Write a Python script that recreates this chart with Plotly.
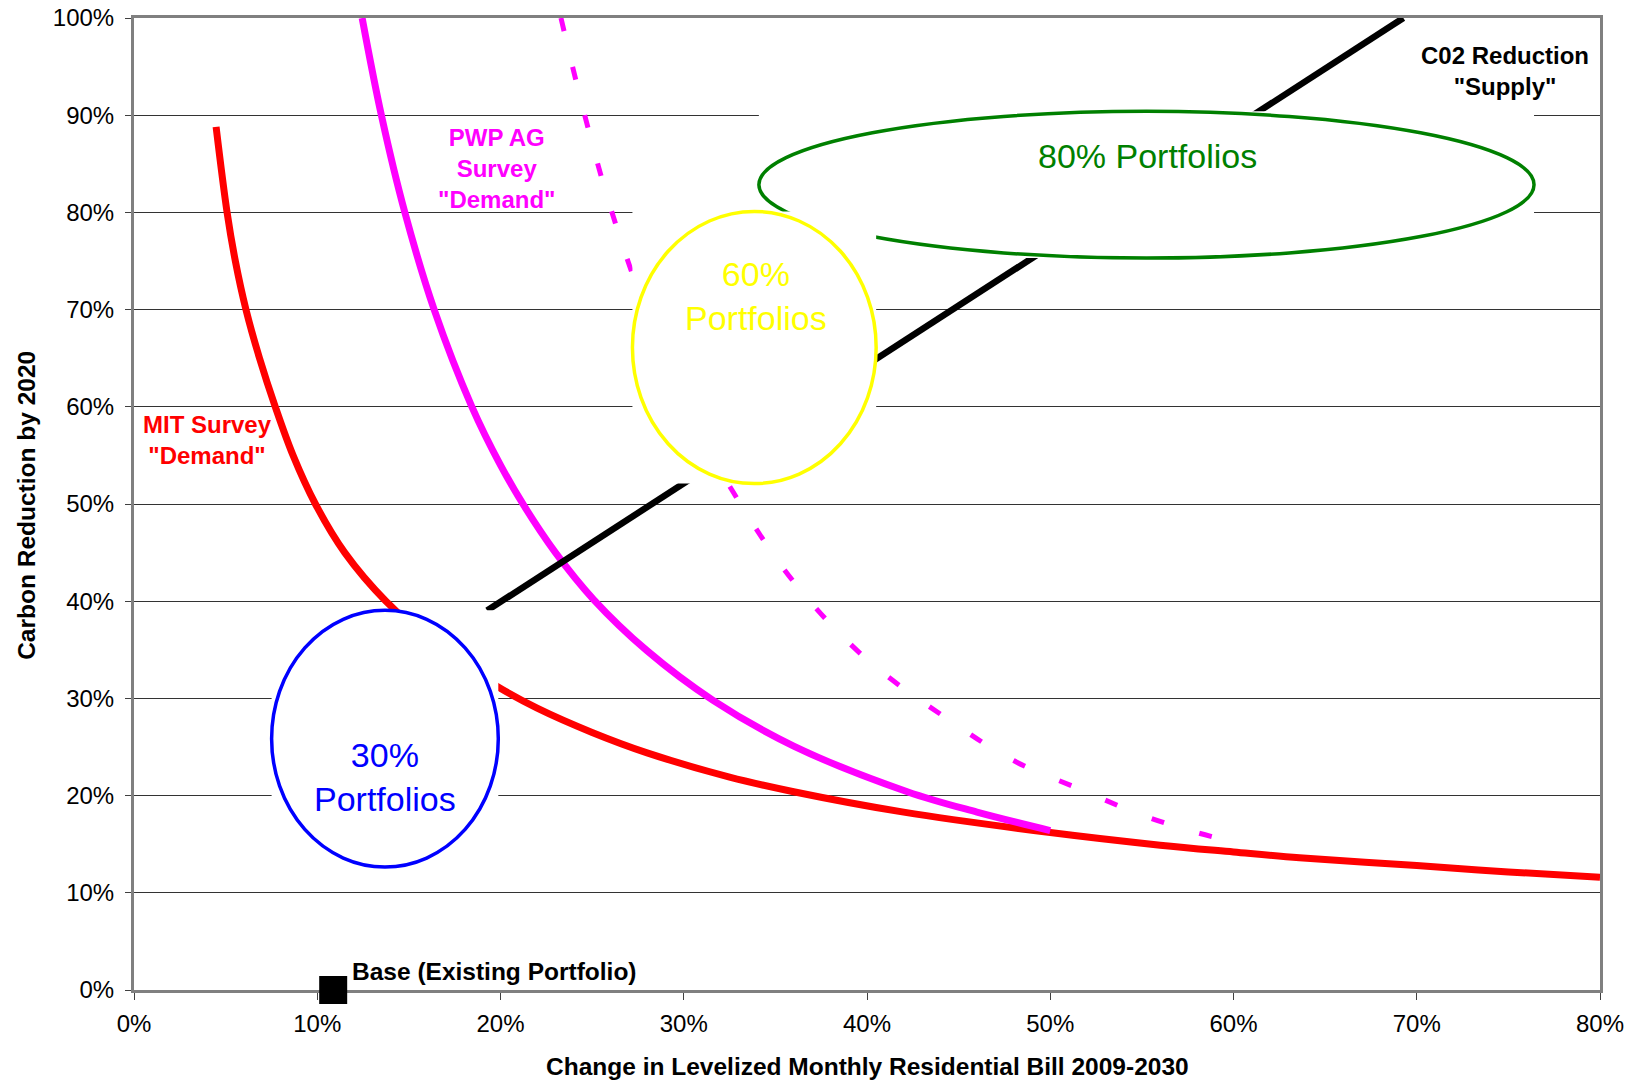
import plotly.graph_objects as go

# MIT survey "demand" curve: change in bill (%) vs carbon reduction (%)
mit_bill = [4.48, 5.08, 5.53, 6.11, 6.85, 7.71, 8.68, 9.9, 11.5, 13.75, 16.8, 19.85,
            22, 25, 28, 32.5, 36, 42, 50, 56, 60, 63.6, 70, 75, 80]
mit_cut = [88.8, 80, 75, 70, 65, 60, 55, 50, 45, 40, 35, 31.2,
           29.0, 26.5, 24.4, 21.9, 20.4, 18.3, 16.2, 14.9, 14.2, 13.6, 12.8, 12.15, 11.6]

# PWP AG survey "demand" curve (solid)
pwp_bill = [12.45, 13.5, 14.78, 16.38, 18.44, 20, 21.29, 23, 25.07, 28, 31.6, 36, 42.2, 46, 50.0]
pwp_cut = [100, 90, 80, 70, 60, 54, 49.8, 45, 40.2, 34.9, 29.8, 25.1, 20.4, 18.3, 16.4]

# PWP AG survey alternative response (dashed)
pwp_alt_bill = [23.3, 24.5, 26, 28, 30, 32.9, 36, 40, 44.7, 48, 51.7, 55, 58, 60.7]
pwp_alt_cut = [100, 90.7, 80.5, 69.5, 60.5, 50.6, 42.0, 34.0, 27.5, 23.6, 20.6, 18.0, 16.2, 14.9]

# CO2 reduction "supply" line
supply_bill = [19.27, 69.27]
supply_cut = [39.04, 100.0]

# Base (existing portfolio)
base_bill = [10.87]
base_cut = [0.0]

# Portfolio groupings, drawn back to front
group_names = ["80% Portfolios", "60%<br>Portfolios", "30%<br>Portfolios"]
group_bill_lo = [34.1, 27.2, 7.51]
group_bill_hi = [76.4, 40.5, 19.88]
group_cut_lo = [75.3, 52.1, 12.65]
group_cut_hi = [90.4, 80.1, 39.06]

x_ticks = [0, 10, 20, 30, 40, 50, 60, 70, 80]
x_tick_labels = ["0%", "10%", "20%", "30%", "40%", "50%", "60%", "70%", "80%"]
y_ticks = [0, 10, 20, 30, 40, 50, 60, 70, 80, 90, 100]
y_tick_labels = ["0%", "10%", "20%", "30%", "40%", "50%", "60%", "70%", "80%", "90%", "100%"]

FONT = "Liberation Sans, Arial, sans-serif"
group_colors = ["#008000", "#FFFF00", "#0000FF"]
group_text_pos = [(55.3, 85.8), (33.93, 71.4), (13.7, 21.9)]

fig = go.Figure()

fig.add_trace(go.Scatter(x=mit_bill, y=mit_cut, mode="lines",
                         line=dict(color="#FF0000", width=7, shape="spline"),
                         hoverinfo="skip"))
fig.add_trace(go.Scatter(x=pwp_bill, y=pwp_cut, mode="lines",
                         line=dict(color="#FF00FF", width=7, shape="spline"),
                         hoverinfo="skip"))
fig.add_trace(go.Scatter(x=pwp_alt_bill, y=pwp_alt_cut, mode="lines",
                         line=dict(color="#FF00FF", width=5, shape="spline", dash="13px,37px"),
                         hoverinfo="skip"))
fig.add_trace(go.Scatter(x=supply_bill, y=supply_cut, mode="lines",
                         line=dict(color="#000000", width=6.5),
                         hoverinfo="skip"))
fig.add_trace(go.Scatter(x=base_bill, y=base_cut, mode="markers",
                         marker=dict(symbol="square", size=28, color="#000000",
                                     line=dict(width=0)),
                         cliponaxis=False, hoverinfo="skip"))

shapes = []
for i in range(len(group_names)):
    # white backing that hides grid and curves behind each grouping
    shapes.append(dict(type="rect", xref="x", yref="y",
                       x0=group_bill_lo[i], x1=group_bill_hi[i],
                       y0=group_cut_lo[i], y1=group_cut_hi[i],
                       fillcolor="white", line=dict(width=0), layer="above"))
    shapes.append(dict(type="circle", xref="x", yref="y",
                       x0=group_bill_lo[i], x1=group_bill_hi[i],
                       y0=group_cut_lo[i], y1=group_cut_hi[i],
                       fillcolor="rgba(0,0,0,0)",
                       line=dict(color=group_colors[i], width=3.5), layer="above"))

annotations = []
for i in range(len(group_names)):
    annotations.append(dict(x=group_text_pos[i][0], y=group_text_pos[i][1],
                            xref="x", yref="y", text=group_names[i], showarrow=False,
                            font=dict(family=FONT, size=34, color=group_colors[i]),
                            xanchor="center", yanchor="middle"))

annotations += [
    dict(x=3.99, y=56.6, xref="x", yref="y", text="<b>MIT Survey<br>\"Demand\"</b>",
         showarrow=False, font=dict(family=FONT, size=24, color="#FF0000"),
         xanchor="center", yanchor="middle"),
    dict(x=19.8, y=84.5, xref="x", yref="y", text="<b>PWP AG<br>Survey<br>\"Demand\"</b>",
         showarrow=False, font=dict(family=FONT, size=24, color="#FF00FF"),
         xanchor="center", yanchor="middle"),
    dict(x=74.8, y=94.5, xref="x", yref="y", text="<b>C02 Reduction<br>\"Supply\"</b>",
         showarrow=False, font=dict(family=FONT, size=24, color="#000000"),
         xanchor="center", yanchor="middle"),
    dict(x=11.8, y=1.9, xref="x", yref="y", text="<b>Base (Existing Portfolio)</b>",
         showarrow=False, font=dict(family=FONT, size=24.5, color="#000000"),
         xanchor="left", yanchor="middle"),
    dict(x=0.5, y=-0.0792, xref="paper", yref="paper",
         text="<b>Change in Levelized Monthly Residential Bill 2009-2030</b>",
         showarrow=False, font=dict(family=FONT, size=24.5, color="#000000"),
         xanchor="center", yanchor="middle"),
    dict(x=-0.0734, y=0.4985, xref="paper", yref="paper",
         text="<b>Carbon Reduction by 2020</b>", textangle=-90,
         showarrow=False, font=dict(family=FONT, size=24.5, color="#000000"),
         xanchor="center", yanchor="middle"),
]

fig.update_layout(
    width=1637, height=1081,
    margin=dict(l=134, r=37, t=18, b=91, autoexpand=False),
    paper_bgcolor="white", plot_bgcolor="white",
    showlegend=False,
    shapes=shapes, annotations=annotations,
    font=dict(family=FONT, color="#000000"),
    xaxis=dict(range=[0, 80], tickvals=x_ticks, ticktext=x_tick_labels,
               showgrid=False, zeroline=False, automargin=False,
               showline=True, linecolor="#808080", linewidth=3, mirror=True,
               ticks="outside", ticklen=7, tickcolor="#404040", tickwidth=1,
               ticklabelstandoff=3,
               tickfont=dict(family=FONT, size=24, color="#000000"),
               layer="below traces"),
    yaxis=dict(range=[0, 100], tickvals=y_ticks, ticktext=y_tick_labels,
               showgrid=True, gridcolor="#333333", gridwidth=1, zeroline=False,
               automargin=False,
               showline=True, linecolor="#808080", linewidth=3, mirror=True,
               ticks="outside", ticklen=6, tickcolor="#404040", tickwidth=1,
               ticklabelstandoff=6,
               tickfont=dict(family=FONT, size=24, color="#000000"),
               layer="below traces"),
)

fig.write_html("out.html")
